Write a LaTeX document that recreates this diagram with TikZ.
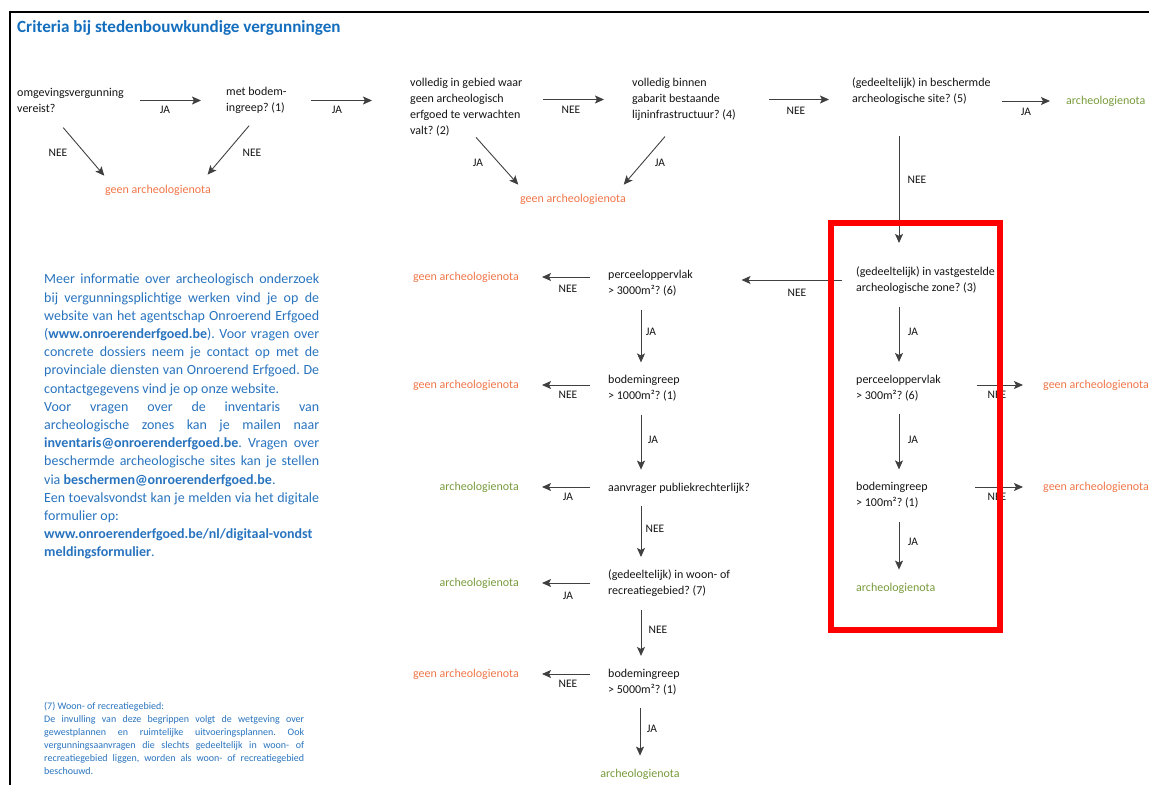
\documentclass[tikz,border=0pt]{standalone}
\usepackage{fontspec}
\setmainfont{Carlito}
\usetikzlibrary{arrows.meta}
\frenchspacing

\definecolor{oeblauw}{RGB}{40,115,190}
\definecolor{oetitel}{RGB}{20,110,190}
\definecolor{oeoranje}{RGB}{240,118,72}
\definecolor{oegroen}{RGB}{120,155,60}

\newcommand\qfont{\fontsize{12}{15.8}\selectfont}
\newcommand\lfont{\fontsize{11.5}{14}\selectfont}
\newcommand\jl[2][275pt]{\hbox to #1{#2}}
\newcommand\rl[1]{\hbox{#1}}

\tikzset{
  vraag/.style={anchor=west, align=left, inner sep=0pt, font=\qfont, text=black!92},
  geen/.style={inner sep=0pt, font=\qfont, text=oeoranje},
  nota/.style={inner sep=0pt, font=\qfont, text=oegroen},
  lbl/.style={inner sep=0pt, font=\lfont, text=black!92},
  pijl/.style={draw=black!75, line width=0.9pt, -{Stealth[length=9pt,width=8pt,inset=2pt]}},
  vpijl/.style={pijl, shorten <=13pt, shorten >=13pt},
}

\begin{document}
\begin{tikzpicture}[x=1pt, y=-1pt]
\useasboundingbox (0,0) rectangle (1149,785);
\draw [line width=1.6pt] (10,785) -- (10,12) -- (1149,12);   %kader
\node [anchor=base west, inner sep=0pt, font=\fontsize{17.1}{20}\selectfont\bfseries, text=oetitel] (titel) at (17,32) {Criteria bij stedenbouwkundige vergunningen};

% bovenste rij
\node [vraag] (omg) at (17,100.5) {omgevingsvergunning\\vereist?};
\node [vraag] (bodem) at (226,100.5) {met bodem-\\ingreep? (1)};
\node [vraag] (gebied) at (410,107) {volledig in gebied waar\\geen archeologisch\\erfgoed te verwachten\\valt? (2)};
\node [vraag] (infra) at (632,99.5) {volledig binnen\\gabarit bestaande\\lijninfrastructuur? (4)};
\node [vraag] (site) at (852,91.5) {(gedeeltelijk) in beschermde\\archeologische site? (5)};
\node [geen] (geen1) at (158,190) {geen archeologienota};
\node [geen] (geen2) at (573,199) {geen archeologienota};
\node [nota, anchor=west] (notaSite) at (1066,101) {archeologienota};

\draw [pijl, shorten <=16pt, shorten >=25pt] (omg.east) -- (omg.east -| bodem.west);
\draw [pijl, shorten <=24.5pt, shorten >=38pt] (bodem.east) -- (bodem.east -| gebied.west);
\draw [pijl, shorten <=21pt, shorten >=28pt] (gebied.east |- infra.west) -- (infra.west);
\draw [pijl, shorten <=33pt, shorten >=23pt] (infra.east) -- (infra.east -| site.west);
\draw [pijl, shorten <=11pt, shorten >=16pt] (site.east |- notaSite.west) -- (notaSite.west);
\draw [pijl, shorten <=19.5pt, shorten >=11.7pt] ([xshift=33.5pt]omg.south west) -- ([xshift=6.9pt]geen1.north west);
\draw [pijl, shorten <=15.7pt, shorten >=13.1pt] ([xshift=33.2pt]bodem.south west) -- ([xshift=-11.9pt]geen1.north east);
\draw [pijl, shorten <=2pt, shorten >=12pt] ([xshift=64.7pt]gebied.south west) -- ([xshift=6.3pt]geen2.north west);
\draw [pijl, shorten <=21pt, shorten >=11.8pt] ([xshift=46.6pt]infra.south west) -- ([xshift=-10pt]geen2.north east);

\node [lbl] (ja1) at (165,110) {JA};
\node [lbl] (ja2) at (337,110) {JA};
\node [lbl] (nee1) at (58,153) {NEE};
\node [lbl] (nee2) at (252,153) {NEE};
\node [lbl] (nee3) at (571,110) {NEE};
\node [lbl] (ja3) at (478,163) {JA};
\node [lbl] (ja4) at (660,163) {JA};
\node [lbl] (nee4) at (796,111) {NEE};
\node [lbl] (ja5) at (1026,112) {JA};
\node [lbl] (nee5) at (917,180) {NEE};

% rechterkolom
\node [vraag] (zone) at (856,280) {(gedeeltelijk) in vastgestelde\\archeologische zone? (3)};
\node [vraag] (perc300) at (856,388) {perceeloppervlak\\> 300m²? (6)};
\node [vraag] (bod100) at (856,495.5) {bodemingreep\\> 100m²? (1)};
\node [nota, anchor=west] (notaZone) at (856,588) {archeologienota};
\node [geen, anchor=west] (geenP300) at (1043,385) {geen archeologienota};
\node [geen, anchor=west] (geenB100) at (1043,487) {geen archeologienota};

% middenkolom
\node [vraag] (perc3000) at (608,283.5) {perceeloppervlak\\> 3000m²? (6)};
\node [vraag] (bod1000) at (608,388.5) {bodemingreep\\> 1000m²? (1)};
\node [vraag] (publiek) at (608,488) {aanvrager publiekrechterlijk?};
\node [vraag] (woon) at (608,583.5) {(gedeeltelijk) in woon- of\\recreatiegebied? (7)};
\node [vraag] (bod5000) at (608,682) {bodemingreep\\> 5000m²? (1)};
\node [geen, anchor=east] (geenP3000) at (519,277) {geen archeologienota};
\node [geen, anchor=east] (geenB1000) at (519,385) {geen archeologienota};
\node [nota, anchor=east] (notaPubliek) at (519,487) {archeologienota};
\node [nota, anchor=east] (notaWoon) at (519,583) {archeologienota};
\node [geen, anchor=east] (geenB5000) at (519,674) {geen archeologienota};
\node [nota] (notaEind) at (640,774) {archeologienota};

\draw [pijl, shorten <=31pt, shorten >=23.5pt] ([xshift=47pt]site.south west) -- ([xshift=43pt]zone.north west);
\draw [pijl, shorten <=14pt, shorten >=48.5pt] (zone.west) -- (zone.west -| perc3000.east);
\foreach \a/\b in {zone/perc300, perc300/bod100, bod100/notaZone}
  \draw [vpijl] ([xshift=43pt]\a.south west) -- ([xshift=43pt]\b.north west);
\draw [pijl, shorten <=35.5pt, shorten >=20pt] (perc300.east |- geenP300.west) -- (geenP300.west);
\draw [pijl, shorten <=47.4pt, shorten >=20pt] (bod100.east |- geenB100.west) -- (geenB100.west);
\foreach \v/\u in {perc3000/geenP3000, bod1000/geenB1000, publiek/notaPubliek, woon/notaWoon, bod5000/geenB5000}
  \draw [pijl, shorten <=18pt, shorten >=23pt] (\u.east -| \v.west) -- (\u.east);
\foreach \a/\b in {perc3000/bod1000, bod1000/publiek, publiek/woon, woon/bod5000}
  \draw [vpijl] ([xshift=33pt]\a.south west) -- ([xshift=33pt]\b.north west);
\draw [vpijl] ([xshift=32pt]bod5000.south west) -- (notaEind.north);

\node [lbl] (nee6) at (797,293) {NEE};
\node [lbl] (ja6) at (913,332) {JA};
\node [lbl] (nee7) at (997,395) {NEE};
\node [lbl] (ja7) at (913,440) {JA};
\node [lbl] (nee8) at (997,497) {NEE};
\node [lbl] (ja8) at (913,542) {JA};
\node [lbl] (nee9) at (568,289) {NEE};
\node [lbl] (ja9) at (651,332) {JA};
\node [lbl] (nee10) at (568,395) {NEE};
\node [lbl] (ja10) at (653,440) {JA};
\node [lbl] (ja11) at (568,497) {JA};
\node [lbl] (nee11) at (655,529) {NEE};
\node [lbl] (ja12) at (568,596) {JA};
\node [lbl] (nee12) at (658,630) {NEE};
\node [lbl] (nee13) at (568,684) {NEE};
\node [lbl] (ja13) at (652,729) {JA};

% info links
\node [anchor=north west, inner sep=0pt, font=\fontsize{14}{18.2}\selectfont, text=oeblauw] (info) at (44,274) {\vbox{%
\jl{Meer informatie over archeologisch onderzoek}
\jl{bij vergunningsplichtige werken vind je op de}
\jl{website van het agentschap Onroerend Erfgoed}
\jl{(\textbf{www.onroerenderfgoed.be}). Voor vragen over}
\jl{concrete dossiers neem je contact op met de}
\jl{provinciale diensten van Onroerend Erfgoed. De}
\rl{contactgegevens vind je op onze website.}
\jl{Voor vragen over de inventaris van}
\jl{archeologische zones kan je mailen naar}
\jl{\textbf{inventaris@onroerenderfgoed.be}. Vragen over}
\jl{beschermde archeologische sites kan je stellen}
\rl{via \textbf{beschermen@onroerenderfgoed.be}.}
\jl{Een toevalsvondst kan je melden via het digitale}
\rl{formulier op:}
\rl{\textbf{www.onroerenderfgoed.be/nl/digitaal-vondst}}
\rl{\textbf{meldingsformulier}.}}};

\node [anchor=north west, inner sep=0pt, font=\fontsize{10}{13}\selectfont, text=oeblauw] (voetnoot) at (44,702) {\vbox{%
\rl{(7) Woon- of recreatiegebied:}
\jl[260pt]{De invulling van deze begrippen volgt de wetgeving over}
\jl[260pt]{gewestplannen en ruimtelijke uitvoeringsplannen. Ook}
\jl[260pt]{vergunningsaanvragen die slechts gedeeltelijk in woon- of}
\jl[260pt]{recreatiegebied liggen, worden als woon- of recreatiegebied}
\rl{beschouwd.}}};

\draw [red, line width=6pt] (831,223) rectangle (1000,630);   %kader rood
\end{tikzpicture}
\end{document}
